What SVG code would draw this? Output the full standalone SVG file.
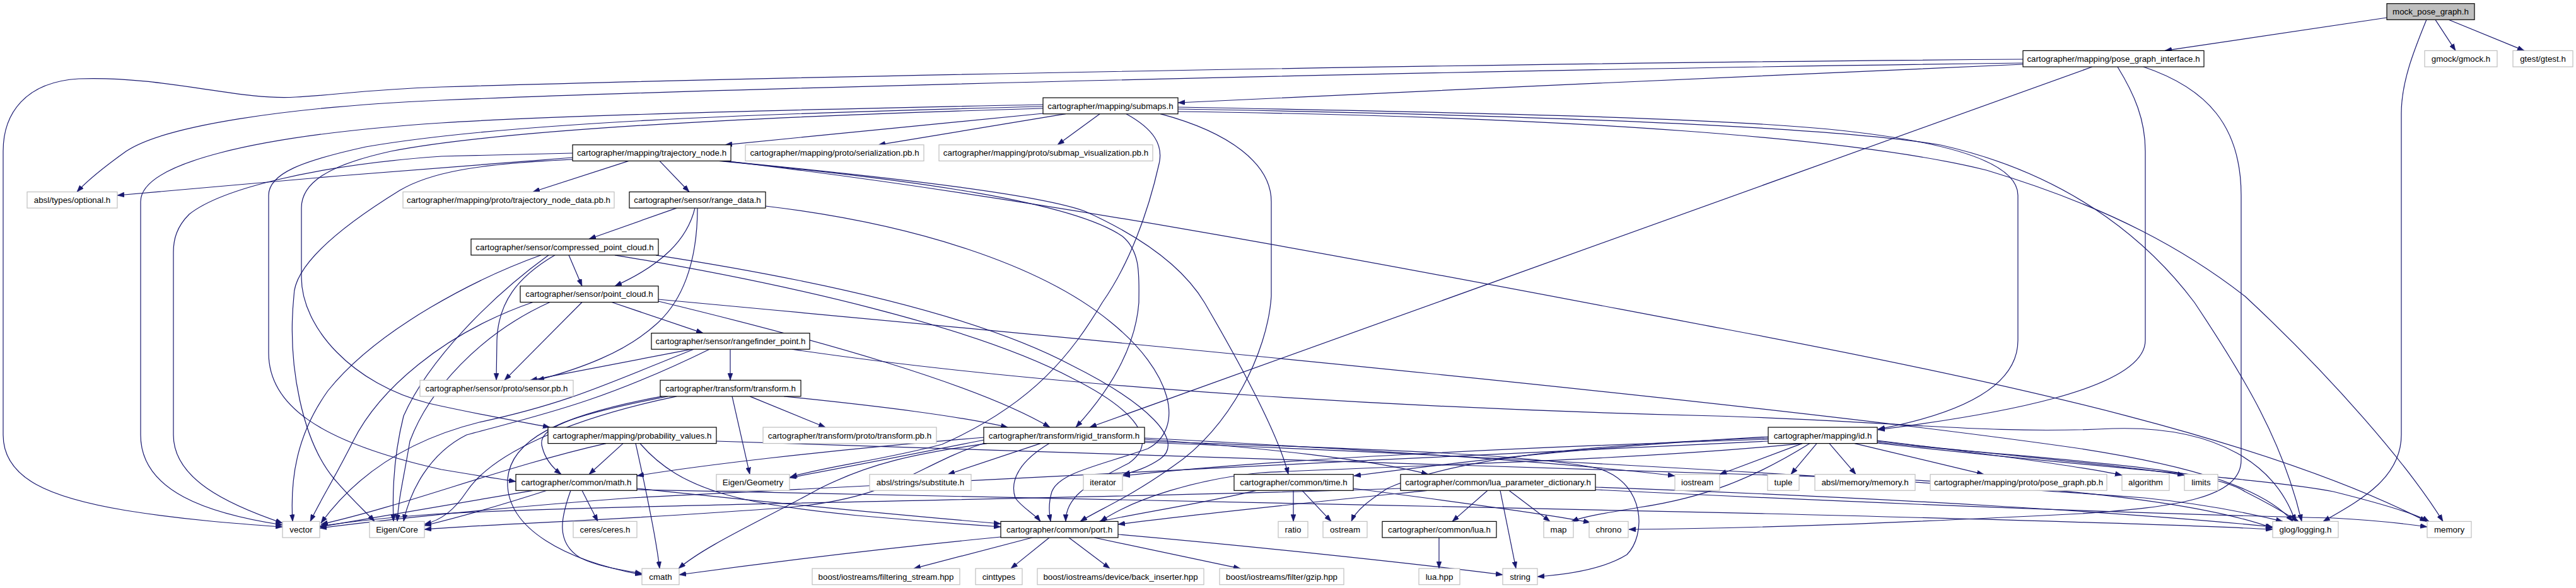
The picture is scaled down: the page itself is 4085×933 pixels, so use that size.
<svg xmlns="http://www.w3.org/2000/svg" width="4085" height="933" viewBox="0 0 4085 933">
<defs>
<marker id="ah" markerUnits="userSpaceOnUse" markerWidth="11" markerHeight="8" refX="11" refY="4" orient="auto">
<path d="M0,0 L11,4 L0,8 z" fill="#191970" stroke="#191970" stroke-width="0.5"/>
</marker>
<style>
.e path{fill:none;stroke:#191970;stroke-width:1.2;marker-end:url(#ah)}
rect{stroke-width:1.2}
.x{fill:#fff;stroke:#bfbfbf}
.i{fill:#fff;stroke:#000}
.r{fill:#bfbfbf;stroke:#000}
text{font-family:"Liberation Sans",Arial,Helvetica,sans-serif;font-size:13.33px;fill:#000;text-anchor:middle}
</style>
</defs>
<rect x="0" y="0" width="4085" height="933" fill="#fff"/>
<g id="edges" class="e">
<path d="M3785,28 L3433,80.4"/>
<path d="M3848,31 C3828,80 3808,130 3808,180 L3808,690 C3808,760 3740,795 3684,827.4"/>
<path d="M3862,31.3 L3894,80.4"/>
<path d="M3883,31.3 L4003,80.4"/>
<path d="M3208,102 C2800,120 2300,142 1868,163"/>
<path d="M3208,94 C2400,100 1300,120 700,138 C580,142 520,152 469,154 C380,160 260,120 125,125 C40,130 5,180 5,240 L5,690 C5,760 80,790 200,810 C300,826 390,832 448,836"/>
<path d="M3208,100 C2400,110 1200,138 700,159 C450,170 260,200 200,240 C165,265 140,285 122,304.5"/>
<path d="M3318,106 L1728,678"/>
<path d="M3358,106 C3385,150 3402,190 3402,240 L3402,540 C3402,620 3150,660 2978,682"/>
<path d="M3399,106 C3500,140 3554,200 3554,310 L3554,730 C3554,790 3450,805 3300,815 C3000,830 2800,838 2583,840"/>
<path d="M1654,166 C1200,175 850,185 700,195 C400,215 223,260 223,320 L223,690 C223,780 330,815 448,833"/>
<path d="M1654,169 C1200,180 800,195 580,233 C480,255 426,275 426,310 L426,560 C426,640 500,700 700,745 C760,755 790,760 818,764"/>
<path d="M1654,172 C1200,185 800,205 620,240 C520,262 478,290 478,330 L478,440 C478,520 560,610 680,640 C760,658 830,670 872,678"/>
<path d="M1654,180 L1150,229.8"/>
<path d="M1690,180.7 L1393,229.8"/>
<path d="M1744,180.7 L1677,229.8"/>
<path d="M1786,180.7 C1830,205 1845,230 1838,260 C1820,340 1790,420 1748,480 C1700,560 1640,640 1494,705 C1400,730 1310,740 1253,757"/>
<path d="M1840,180.7 C1950,210 2016,260 2016,320 L2016,470 C2010,560 1950,680 1860,740 C1790,790 1740,810 1713,827.4"/>
<path d="M1868,170 C2300,178 2700,186 2900,205 C3100,225 3200,260 3200,310 L3200,540 C3200,620 3090,660 2978,681"/>
<path d="M1868,173 C2400,182 2900,200 3077,230 C3300,280 3420,400 3480,480 C3560,600 3620,700 3650,827.4"/>
<path d="M1868,177 C2500,185 2950,220 3150,270 C3350,330 3470,400 3560,470 C3700,600 3820,740 3874,827.4"/>
<path d="M997,255.4 L845,304.5"/>
<path d="M1046,255.4 L1093,304.5"/>
<path d="M908,243 C800,245 720,247 700,248 C500,262 350,300 300,340 C280,360 275,380 275,400 L275,690 C275,760 360,800 448,830"/>
<path d="M908,250 C700,265 400,290 186,310"/>
<path d="M908,253 C750,260 680,275 634,302 C540,360 466,420 466,470 C455,580 480,700 530,760 C560,795 580,812 594,827.4"/>
<path d="M1140,255.4 C1450,285 1700,320 1780,375 C1810,400 1806,440 1806,480 C1800,560 1750,630 1706,678"/>
<path d="M1145,255.4 C1450,285 1650,310 1720,335 C1820,380 1880,430 1910,480 C1980,600 2030,700 2043,752.7"/>
<path d="M1150,255.4 C1700,320 2300,440 2740,523 C3200,610 3600,700 3848,827.4"/>
<path d="M1073,330.1 L934,379.2"/>
<path d="M1102,330.1 C1090,380 1050,420 975,453.9"/>
<path d="M1106,330.1 C1106,420 1080,480 1040,515 C990,560 920,585 852,603.3"/>
<path d="M1214,327 C1450,355 1650,420 1760,510 C1860,590 1880,680 1820,712 C1740,740 1680,750 1668,780 C1662,800 1664,815 1666,827.4"/>
<path d="M902,404.8 L923,453.9"/>
<path d="M858,404.8 C760,440 600,520 520,620 C470,690 460,760 464,827.4"/>
<path d="M870,404.8 C780,470 680,570 640,660 C625,720 622,780 624,827.4"/>
<path d="M880,404.8 C820,440 790,480 788,540 L787,603.3"/>
<path d="M975,404.8 C1250,450 1550,520 1700,600 C1800,650 1840,700 1790,735 C1720,770 1690,790 1690,827.4"/>
<path d="M1040,404.8 C1300,445 1550,500 1700,580 C1820,640 1880,700 1840,728 C1820,742 1800,748 1781,753"/>
<path d="M845,479.5 C700,530 600,620 560,700 C530,760 510,790 492,827.4"/>
<path d="M872,479.5 C760,530 680,620 650,700 C640,760 632,790 630,827.4"/>
<path d="M923,479.5 L800,603.3"/>
<path d="M970,479.5 L1115,528.6"/>
<path d="M1044,475 C1800,545 2800,640 3300,712 C3480,740 3590,775 3636,827.4"/>
<path d="M1044,478 C1300,540 1550,610 1665,678"/>
<path d="M1158,554.2 L1158,603.3"/>
<path d="M1097,554.2 L841,603.3"/>
<path d="M1100,554.2 C960,610 900,640 760,670 C640,700 560,760 509,830"/>
<path d="M1125,554.2 C950,640 850,660 740,690 C680,720 650,780 640,827.4"/>
<path d="M1256,554.2 C1700,620 2300,650 2720,660 C3000,668 3150,690 3350,680 C3520,675 3610,740 3640,827.4"/>
<path d="M1073,628.9 C900,665 780,720 740,780 C720,810 700,825 673,832"/>
<path d="M1059,628.9 C900,660 850,680 860,710 C865,730 880,745 890,752.7"/>
<path d="M1050,628.9 C880,660 810,700 805,760 C800,840 900,890 1018,912"/>
<path d="M1161,628.9 L1189,752.7"/>
<path d="M1189,628.9 L1309,678"/>
<path d="M1243,628.9 C1400,645 1520,660 1598,678"/>
<path d="M961,703.6 C800,740 650,800 509,832"/>
<path d="M988,703.6 L934,752.7"/>
<path d="M1008,703.6 C1025,780 1040,850 1046,902.1"/>
<path d="M1015,703.6 C1080,780 1180,800 1360,818 C1450,826 1530,832 1587,836"/>
<path d="M1136,700 C1600,720 2500,740 3000,760 C3300,775 3500,800 3604,838"/>
<path d="M845,778.3 C720,800 600,820 507,836"/>
<path d="M867,778.3 C800,800 730,820 673,834"/>
<path d="M905,778.3 C890,820 880,860 920,885 C950,900 990,905 1018,910"/>
<path d="M923,778.3 L948,827.4"/>
<path d="M1010,775 C1200,795 1400,815 1587,831"/>
<path d="M1010,777 C1500,790 2200,800 2800,815 C3200,825 3450,832 3604,840"/>
<path d="M1561,703 C1450,740 1420,790 1250,805 C1000,825 800,830 673,840"/>
<path d="M1561,698 C1450,720 1350,740 1252,758"/>
<path d="M1561,694 C1300,715 1100,740 1010,755"/>
<path d="M1565,703.6 C1450,720 1380,735 1300,775 C1200,830 1120,865 1076,902.1"/>
<path d="M1650,703.6 L1503,752.7"/>
<path d="M1664,703.6 C1620,730 1600,760 1610,790 C1620,805 1640,815 1650,827.4"/>
<path d="M1815,695 C2100,710 2450,730 2656,755"/>
<path d="M1815,697 C2000,710 2180,730 2265,752.7"/>
<path d="M1815,700 C2100,710 2450,720 2540,745 C2610,770 2610,850 2580,880 C2540,905 2480,912 2438,915"/>
<path d="M1815,702 C2300,720 3000,760 3400,790 C3500,800 3570,815 3620,827.4"/>
<path d="M2858,703.6 C2600,730 2200,740 2000,750 C1900,760 1800,790 1745,827.4"/>
<path d="M2858,703.6 L2727,752.7"/>
<path d="M2881,703.6 L2840,752.7"/>
<path d="M2901,703.6 L2943,752.7"/>
<path d="M2941,703.6 L3146,752.7"/>
<path d="M2977,699 C3150,720 3300,740 3365,754"/>
<path d="M2977,700 C3200,725 3380,740 3464,754"/>
<path d="M2977,702 C3250,730 3500,740 3560,780 C3600,800 3625,815 3645,827.4"/>
<path d="M2977,703 C3300,740 3600,760 3700,780 C3780,800 3830,815 3852,827.4"/>
<path d="M2804,693 C2500,710 2300,735 2147,755"/>
<path d="M2804,695 C2500,705 2300,730 2200,775 C2170,795 2150,810 2143,827.4"/>
<path d="M2804,697 C2400,710 2000,730 1781,755"/>
<path d="M2804,700 C2200,730 1500,760 1000,790 C800,805 650,820 507,838"/>
<path d="M2870,703.6 C2780,760 2700,790 2600,805 C2540,815 2510,820 2492,827.4"/>
<path d="M2051,778.3 L2051,827.4"/>
<path d="M2065,778.3 L2111,827.4"/>
<path d="M2146,775 C2300,795 2450,815 2522,829"/>
<path d="M1992,778.3 C1900,800 1800,815 1742,828"/>
<path d="M2359,778.3 L2303,827.4"/>
<path d="M2379,778.3 L2404,902.1"/>
<path d="M2393,778.3 L2458,827.4"/>
<path d="M2263,778.3 C2100,795 1900,815 1773,832"/>
<path d="M2221,775 C1800,790 1000,800 700,815 C600,822 540,830 507,835"/>
<path d="M2530,773 C3000,790 3400,815 3604,836"/>
<path d="M2530,777 C3000,800 3400,815 3700,822 C3780,826 3820,832 3849,836"/>
<path d="M2282,853 L2282,902.1"/>
<path d="M1587,852 C1400,870 1200,895 1077,912"/>
<path d="M1637,853 L1449,902.1"/>
<path d="M1664,853 L1603,902.1"/>
<path d="M1695,853 L1760,902.1"/>
<path d="M1735,853 L1967,902.1"/>
<path d="M1773,848 C2000,868 2250,895 2383,912"/>
</g>
<g id="mock"><rect class="r" x="3785" y="5.7" width="139" height="25.6"/><text x="3854.5" y="23.2">mock_pose_graph.h</text></g>
<g id="pgi"><rect class="i" x="3208" y="80.4" width="287" height="25.6"/><text x="3351.5" y="97.9">cartographer/mapping/pose_graph_interface.h</text></g>
<g id="gmock"><rect class="x" x="3845" y="80.4" width="115" height="25.6"/><text x="3902.5" y="97.9">gmock/gmock.h</text></g>
<g id="gtest"><rect class="x" x="3985" y="80.4" width="95" height="25.6"/><text x="4032.5" y="97.9">gtest/gtest.h</text></g>
<g id="submaps"><rect class="i" x="1654" y="155.1" width="214" height="25.6"/><text x="1761" y="172.6">cartographer/mapping/submaps.h</text></g>
<g id="traj"><rect class="i" x="908" y="229.8" width="251" height="25.6"/><text x="1033.5" y="247.3">cartographer/mapping/trajectory_node.h</text></g>
<g id="serpb"><rect class="x" x="1182" y="229.8" width="283" height="25.6"/><text x="1323.5" y="247.3">cartographer/mapping/proto/serialization.pb.h</text></g>
<g id="subvis"><rect class="x" x="1489" y="229.8" width="339" height="25.6"/><text x="1658.5" y="247.3">cartographer/mapping/proto/submap_visualization.pb.h</text></g>
<g id="optional"><rect class="x" x="43" y="304.5" width="143" height="25.6"/><text x="114.5" y="322">absl/types/optional.h</text></g>
<g id="tndpb"><rect class="x" x="639" y="304.5" width="335" height="25.6"/><text x="806.5" y="322">cartographer/mapping/proto/trajectory_node_data.pb.h</text></g>
<g id="range"><rect class="i" x="998" y="304.5" width="216" height="25.6"/><text x="1106" y="322">cartographer/sensor/range_data.h</text></g>
<g id="cpc"><rect class="i" x="747" y="379.2" width="297" height="25.6"/><text x="895.5" y="396.7">cartographer/sensor/compressed_point_cloud.h</text></g>
<g id="pc"><rect class="i" x="825" y="453.9" width="219" height="25.6"/><text x="934.5" y="471.4">cartographer/sensor/point_cloud.h</text></g>
<g id="rfp"><rect class="i" x="1033" y="528.6" width="251" height="25.6"/><text x="1158.5" y="546.1">cartographer/sensor/rangefinder_point.h</text></g>
<g id="sensorpb"><rect class="x" x="666" y="603.3" width="243" height="25.6"/><text x="787.5" y="620.8">cartographer/sensor/proto/sensor.pb.h</text></g>
<g id="transform"><rect class="i" x="1047" y="603.3" width="223" height="25.6"/><text x="1158.5" y="620.8">cartographer/transform/transform.h</text></g>
<g id="prob"><rect class="i" x="869" y="678" width="267" height="25.6"/><text x="1002.5" y="695.5">cartographer/mapping/probability_values.h</text></g>
<g id="tfpb"><rect class="x" x="1210" y="678" width="275" height="25.6"/><text x="1347.5" y="695.5">cartographer/transform/proto/transform.pb.h</text></g>
<g id="rigid"><rect class="i" x="1560" y="678" width="255" height="25.6"/><text x="1687.5" y="695.5">cartographer/transform/rigid_transform.h</text></g>
<g id="idh"><rect class="i" x="2804" y="678" width="173" height="25.6"/><text x="2890.5" y="695.5">cartographer/mapping/id.h</text></g>
<g id="math"><rect class="i" x="818" y="752.7" width="192" height="25.6"/><text x="914" y="770.2">cartographer/common/math.h</text></g>
<g id="geometry"><rect class="x" x="1136" y="752.7" width="116" height="25.6"/><text x="1194" y="770.2">Eigen/Geometry</text></g>
<g id="substitute"><rect class="x" x="1379" y="752.7" width="161" height="25.6"/><text x="1459.5" y="770.2">absl/strings/substitute.h</text></g>
<g id="iterator"><rect class="x" x="1718" y="752.7" width="62" height="25.6"/><text x="1749" y="770.2">iterator</text></g>
<g id="time"><rect class="i" x="1957" y="752.7" width="189" height="25.6"/><text x="2051.5" y="770.2">cartographer/common/time.h</text></g>
<g id="lpd"><rect class="i" x="2221" y="752.7" width="309" height="25.6"/><text x="2375.5" y="770.2">cartographer/common/lua_parameter_dictionary.h</text></g>
<g id="iostream"><rect class="x" x="2656" y="752.7" width="71" height="25.6"/><text x="2691.5" y="770.2">iostream</text></g>
<g id="tuple"><rect class="x" x="2803" y="752.7" width="50" height="25.6"/><text x="2828" y="770.2">tuple</text></g>
<g id="absmem"><rect class="x" x="2878" y="752.7" width="159" height="25.6"/><text x="2957.5" y="770.2">absl/memory/memory.h</text></g>
<g id="pgpb"><rect class="x" x="3061" y="752.7" width="280" height="25.6"/><text x="3201" y="770.2">cartographer/mapping/proto/pose_graph.pb.h</text></g>
<g id="algorithm"><rect class="x" x="3365" y="752.7" width="75" height="25.6"/><text x="3402.5" y="770.2">algorithm</text></g>
<g id="limits"><rect class="x" x="3464" y="752.7" width="53" height="25.6"/><text x="3490.5" y="770.2">limits</text></g>
<g id="vector"><rect class="x" x="448" y="827.4" width="59" height="25.6"/><text x="477.5" y="844.9">vector</text></g>
<g id="eigencore"><rect class="x" x="586" y="827.4" width="87" height="25.6"/><text x="629.5" y="844.9">Eigen/Core</text></g>
<g id="ceres"><rect class="x" x="909" y="827.4" width="101" height="25.6"/><text x="959.5" y="844.9">ceres/ceres.h</text></g>
<g id="port"><rect class="i" x="1587" y="827.4" width="186" height="25.6"/><text x="1680" y="844.9">cartographer/common/port.h</text></g>
<g id="ratio"><rect class="x" x="2027" y="827.4" width="47" height="25.6"/><text x="2050.5" y="844.9">ratio</text></g>
<g id="ostream"><rect class="x" x="2098" y="827.4" width="70" height="25.6"/><text x="2133" y="844.9">ostream</text></g>
<g id="lua"><rect class="i" x="2192" y="827.4" width="181" height="25.6"/><text x="2282.5" y="844.9">cartographer/common/lua.h</text></g>
<g id="map"><rect class="x" x="2448" y="827.4" width="47" height="25.6"/><text x="2471.5" y="844.9">map</text></g>
<g id="chrono"><rect class="x" x="2520" y="827.4" width="62" height="25.6"/><text x="2551" y="844.9">chrono</text></g>
<g id="glog"><rect class="x" x="3604" y="827.4" width="104" height="25.6"/><text x="3656" y="844.9">glog/logging.h</text></g>
<g id="memory"><rect class="x" x="3849" y="827.4" width="70" height="25.6"/><text x="3884" y="844.9">memory</text></g>
<g id="cmath"><rect class="x" x="1018" y="902.1" width="59" height="25.6"/><text x="1047.5" y="919.6">cmath</text></g>
<g id="filtering"><rect class="x" x="1288" y="902.1" width="234" height="25.6"/><text x="1405" y="919.6">boost/iostreams/filtering_stream.hpp</text></g>
<g id="cinttypes"><rect class="x" x="1547" y="902.1" width="74" height="25.6"/><text x="1584" y="919.6">cinttypes</text></g>
<g id="backins"><rect class="x" x="1645" y="902.1" width="264" height="25.6"/><text x="1777" y="919.6">boost/iostreams/device/back_inserter.hpp</text></g>
<g id="gzip"><rect class="x" x="1934" y="902.1" width="197" height="25.6"/><text x="2032.5" y="919.6">boost/iostreams/filter/gzip.hpp</text></g>
<g id="luahpp"><rect class="x" x="2250" y="902.1" width="65" height="25.6"/><text x="2282.5" y="919.6">lua.hpp</text></g>
<g id="string"><rect class="x" x="2383" y="902.1" width="55" height="25.6"/><text x="2410.5" y="919.6">string</text></g>
</svg>
